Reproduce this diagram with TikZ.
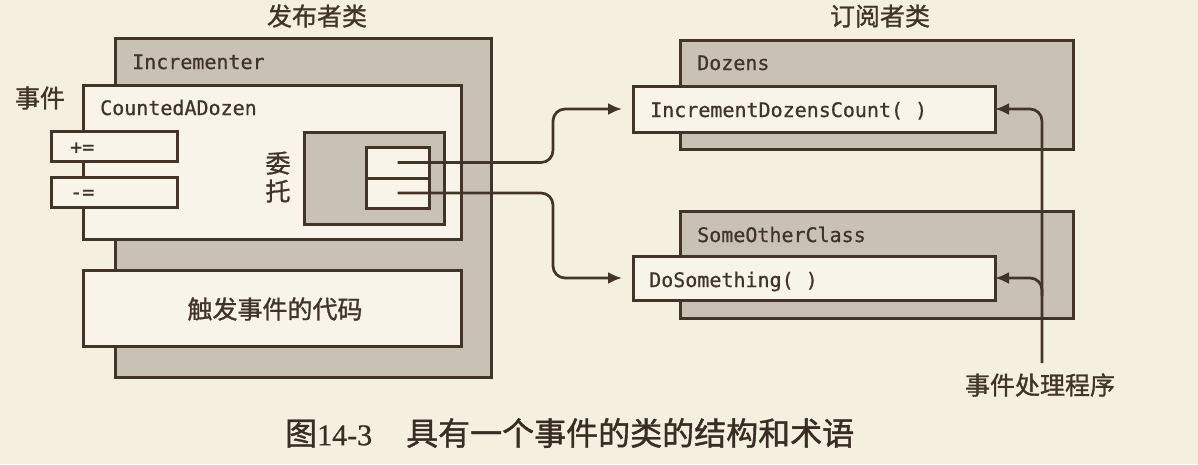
\documentclass[tikz,border=0pt]{standalone}
\usepackage{fontspec}
\usetikzlibrary{arrows.meta,positioning}
\newfontfamily\cjk[FakeBold=1.2]{Noto Sans CJK SC}
\newfontfamily\code[FakeBold=0.8]{DejaVu Sans Mono}
\newfontfamily\capfont[FakeBold=0.8]{Liberation Serif}
\definecolor{paper}{HTML}{F5EFDF}
\definecolor{shade}{HTML}{C9C2B4}
\definecolor{card}{HTML}{F8F4E9}
\definecolor{ink}{HTML}{43342A}

\begin{document}
\begin{tikzpicture}[x=1pt,y=-1pt,
  shadebox/.style={draw=ink,line width=3pt,fill=shade,anchor=north west,inner sep=0pt,outer sep=0pt},
  cardbox/.style={draw=ink,line width=3pt,fill=card,anchor=north west,inner sep=0pt,outer sep=0pt},
  cname/.style={anchor=base west,inner sep=0pt,text=ink,font=\code\fontsize{20}{24}\selectfont},
  zh/.style={inner sep=0pt,text=ink,font=\cjk\fontsize{25}{28}\selectfont},
  wire/.style={draw=ink,line width=2.7pt,rounded corners=12pt,-{Latex[length=14pt,width=12pt]}}]
\fill[paper] (0,0) rectangle (1198,464);
\useasboundingbox (0,0) rectangle (1198,464);
% publisher
\node[zh] (pubT) at (317,16) {发布者类};
\node[shadebox,minimum width=376pt,minimum height=339pt] (incr) at (115,38) {};
\node[cname] (incrT) at (132,69) {Incrementer};
\node[cardbox,minimum width=378pt,minimum height=154pt] (cad) at (83,85) {};
\node[cname] (cadT) at (100,115) {CountedADozen};
\node[zh] (evT) at (40,98) {事件};
\node[cardbox,minimum width=126pt,minimum height=30pt] (add) at (51,131) {};
\node[cname] (addT) at (70,154) {+=};
\node[cardbox,minimum width=126pt,minimum height=30pt] (sub) at (51,177) {};
\node[cname] (subT) at (70,199) {-=};
\node[zh,align=center] (dlgT) at (278,177) {委\\托};
\node[shadebox,minimum width=140pt,minimum height=92pt] (dlg) at (304,132) {};
\node[cardbox,minimum width=63pt,minimum height=31pt] (cellA) at (366,147) {};
\node[cardbox,minimum width=63pt,minimum height=30pt] (cellB) at (366,178) {};
\node[cardbox,minimum width=378pt,minimum height=76pt] (fire) at (83,270) {};
\node[zh] (fireT) at (275,309) {触发事件的代码};
% subscribers
\node[zh] (subsT) at (880,16) {订阅者类};
\node[shadebox,minimum width=393pt,minimum height=109pt] (dozens) at (680,40) {};
\node[cname] (dozensT) at (697,70) {Dozens};
\node[cardbox,minimum width=362pt,minimum height=46pt] (idc) at (633,86) {};
\node[cname] (idcT) at (650,117) {IncrementDozensCount( )};
\node[shadebox,minimum width=393pt,minimum height=107pt] (soc) at (680,211) {};
\node[cname] (socT) at (697,242) {SomeOtherClass};
\node[cardbox,minimum width=362pt,minimum height=44pt] (ds) at (633,256) {};
\node[cname] (dsT) at (649,287) {DoSomething( )};
\node[zh] (hndT) at (1040,385) {事件处理程序};
\coordinate (hstem) at (1042,363);
\coordinate (hfork) at (1042,296);
% connectors
\draw[wire,shorten >=11pt] (cellA.center) -| ([xshift=-80pt]idc.west) -- (idc.west);
\draw[wire,shorten >=11pt] (cellB.center) -| ([xshift=-80pt]ds.west) -- (ds.west);
\draw[wire] (hstem) |- (idc.east);
\draw[wire] (hfork) |- (ds.east);
% caption
\node[anchor=west,inner sep=0pt,text=ink!85!black] (cap) at (285,433)
  {\cjk\fontsize{32}{34}\selectfont 图{\capfont\fontsize{30}{34}\selectfont 14-3}\hspace{34pt}具有一个事件的类的结构和术语};
\end{tikzpicture}
\end{document}
